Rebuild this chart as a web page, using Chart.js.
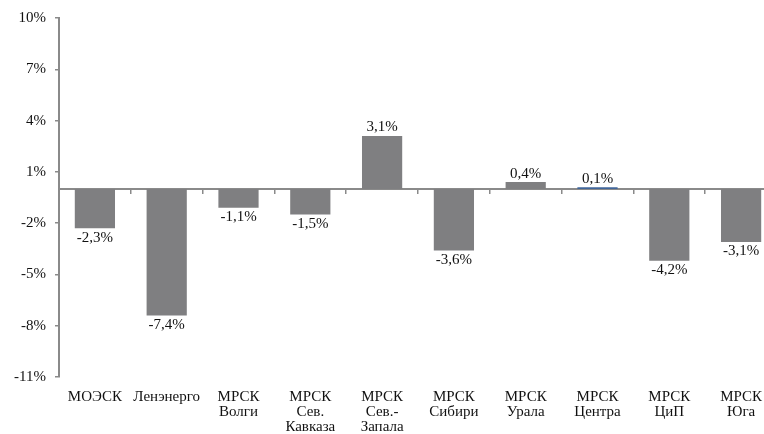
<!DOCTYPE html>
<html>
<head>
<meta charset="utf-8">
<script src="https://cdn.jsdelivr.net/npm/chart.js@4/dist/chart.umd.min.js"></script>
<style>
    html, body { margin: 0; padding: 0; background: #fff; overflow: hidden; }
    #wrap { width: 764px; height: 434px; overflow: hidden; }
</style>
</head>
<body>
<div id="wrap"><canvas id="chart" width="777" height="434"></canvas></div>
<script>
// Chart data
const categories = [
    'МОЭСК',
    'Ленэнерго',
    ['МРСК', 'Волги'],
    ['МРСК', 'Сев.', 'Кавказа'],
    ['МРСК', 'Сев.-', 'Запала'],
    ['МРСК', 'Сибири'],
    ['МРСК', 'Урала'],
    ['МРСК', 'Центра'],
    ['МРСК', 'ЦиП'],
    ['МРСК', 'Юга']
];
const values = [-2.3, -7.4, -1.1, -1.5, 3.1, -3.6, 0.4, 0.1, -4.2, -3.1];
const yTicks = [-11, -8, -5, -2, 1, 4, 7, 10];

const gray = '#7f7f81';
const axisGray = '#8a8a8a';
const serif = 'Liberation Serif';
const fontSize = 15;

// Bar colours: the Центра bar is blue
const barColors = values.map((v, i) => i === 7 ? '#41669a' : gray);

// Value labels under negative bars, above positive ones
const valueLabels = {
    id: 'valueLabels',
    afterDatasetsDraw(chart) {
        const ctx = chart.ctx;
        const meta = chart.getDatasetMeta(0);
        ctx.save();
        ctx.font = fontSize + 'px "' + serif + '"';
        ctx.fillStyle = '#111';
        ctx.textAlign = 'center';
        meta.data.forEach((bar, i) => {
            const v = values[i];
            const txt = v.toFixed(1).replace('.', ',') + '%';
            if (v < 0) {
                ctx.textBaseline = 'top';
                ctx.fillText(txt, bar.x, bar.y + 2);
            } else {
                ctx.textBaseline = 'bottom';
                ctx.fillText(txt, bar.x, bar.y - 1);
            }
        });
        ctx.restore();
    }
};

const ctx = document.getElementById('chart').getContext('2d');
new Chart(ctx, {
    type: 'bar',
    data: {
        labels: categories,
        datasets: [{
            data: values,
            backgroundColor: barColors,
            borderWidth: 0,
            categoryPercentage: 1,
            barPercentage: 0.56,
            xAxisID: 'x'
        }]
    },
    options: {
        responsive: false,
        animation: false,
        devicePixelRatio: 1,
        layout: { padding: { top: 18, right: 0, bottom: 0, left: 0 } },
        plugins: {
            legend: { display: false },
            tooltip: { enabled: false }
        },
        scales: {
            x: {
                type: 'category',
                position: { y: 0 },
                ticks: { display: false },
                grid: {
                    offset: true,
                    drawOnChartArea: false,
                    drawTicks: true,
                    tickLength: 4,
                    color: axisGray,
                    lineWidth: 1.5
                },
                border: { display: true, color: axisGray, width: 2 }
            },
            x2: {
                type: 'category',
                position: 'bottom',
                grid: { display: false },
                border: { display: false },
                ticks: {
                    color: '#111',
                    font: { family: serif, size: fontSize, lineHeight: 1.0 },
                    padding: 5,
                    maxRotation: 0,
                    autoSkip: false
                },
                afterFit(scale) { scale.height = 57; }
            },
            y: {
                min: -11,
                max: 10,
                afterBuildTicks(scale) {
                    scale.ticks = yTicks.map(v => ({ value: v }));
                },
                afterFit(scale) { scale.width = 59; },
                ticks: {
                    color: '#111',
                    font: { family: serif, size: fontSize },
                    padding: 9,
                    callback: v => v + '%'
                },
                grid: {
                    drawOnChartArea: false,
                    drawTicks: true,
                    tickLength: 4,
                    color: axisGray,
                    lineWidth: 1.5
                },
                border: { display: true, color: axisGray, width: 2 }
            }
        }
    },
    plugins: [valueLabels]
});
</script>
</body>
</html>
